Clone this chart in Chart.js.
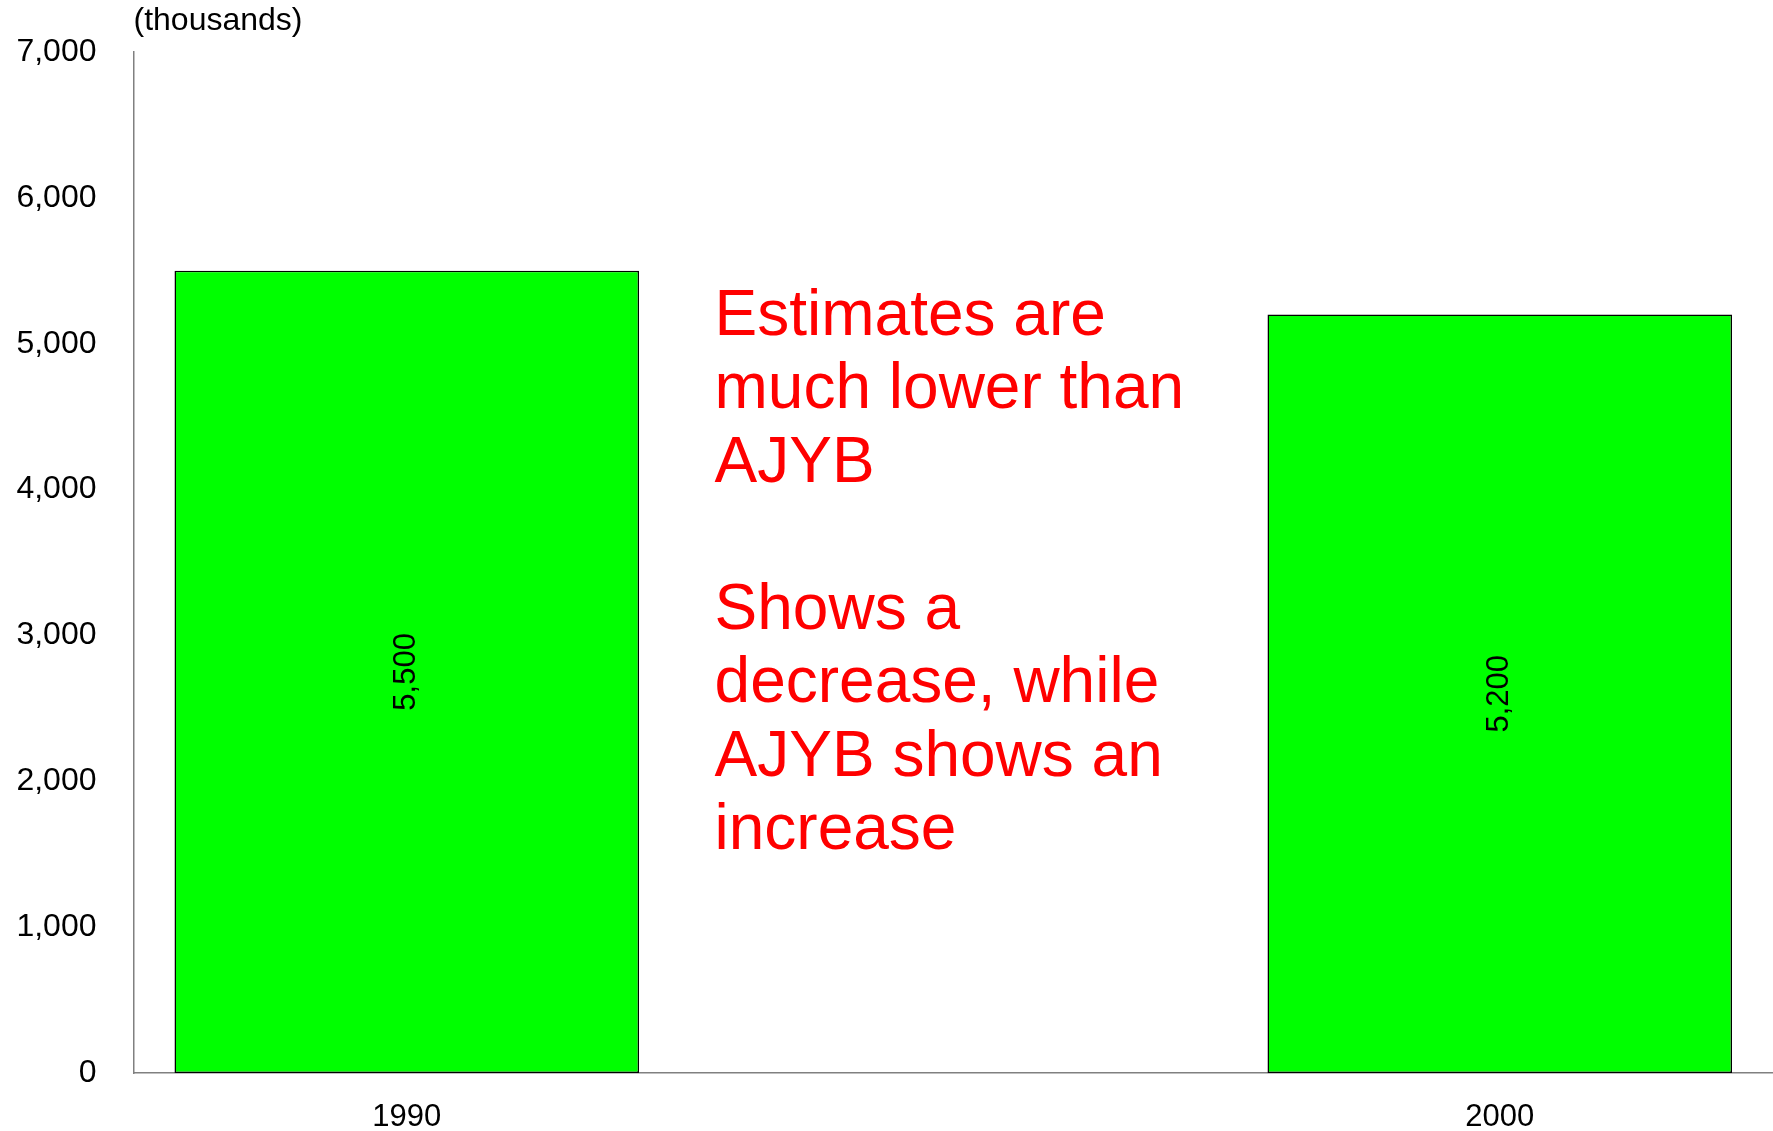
<!DOCTYPE html>
<html>
<head>
<meta charset="utf-8">
<script src="https://cdn.jsdelivr.net/npm/chart.js@4.4.1/dist/chart.umd.min.js"></script>
<style>
  html, body { margin: 0; padding: 0; background: #ffffff; }
  #wrap { width: 1773px; height: 1131px; position: relative; }
</style>
</head>
<body>
<div id="wrap"><canvas id="c" width="1773" height="1131"></canvas></div>
<script>
// ---- data ----
const categories = ['1990', '2000'];
const values = [5500, 5200];
const valueLabels = ['5,500', '5,200'];
const yTicks = [0, 1000, 2000, 3000, 4000, 5000, 6000, 7000];
const unitLabel = '(thousands)';
const noteLines = [
  'Estimates are',
  'much lower than',
  'AJYB',
  '',
  'Shows a',
  'decrease, while',
  'AJYB shows an',
  'increase'
];

const FONT = '"Liberation Sans", Arial, Helvetica, sans-serif';

const points = categories.map((c, i) => ({ x: i, y: values[i] }));

const overlayPlugin = {
  id: 'overlay',
  afterDatasetsDraw(chart) {
    const ctx = chart.ctx;
    const area = chart.chartArea;
    const xs = chart.scales.x, ys = chart.scales.y;
    // value labels, rotated, centred in bars
    const meta = chart.getDatasetMeta(0);
    ctx.save();
    ctx.fillStyle = '#000000';
    ctx.font = '31px ' + FONT;
    ctx.textAlign = 'center';
    ctx.textBaseline = 'middle';
    meta.data.forEach((bar, i) => {
      const cy = (bar.y + bar.base) / 2;
      ctx.save();
      ctx.translate(bar.x, cy);
      ctx.rotate(-Math.PI / 2);
      ctx.fillText(valueLabels[i], 0, 0);
      ctx.restore();
    });
    ctx.restore();

    // unit label above the y axis
    ctx.save();
    ctx.fillStyle = '#000000';
    ctx.font = '32px ' + FONT;
    ctx.textAlign = 'left';
    ctx.textBaseline = 'middle';
    ctx.fillText(unitLabel, area.left, 21);
    ctx.restore();

    // annotation text
    ctx.save();
    ctx.fillStyle = '#ff0000';
    ctx.font = '64px ' + FONT;
    ctx.textAlign = 'left';
    ctx.textBaseline = 'alphabetic';
    const tx = xs.getPixelForValue(0.2816);
    const ty0 = ys.getPixelForValue(5063);
    const lh = 73.5;
    noteLines.forEach((line, i) => {
      if (line) ctx.fillText(line, tx, ty0 + i * lh);
    });
    ctx.restore();
  }
};

new Chart(document.getElementById('c'), {
  type: 'bar',
  data: {
    datasets: [{
      data: points,
      backgroundColor: '#00ff00',
      borderColor: '#000000',
      borderWidth: 1.5,
      borderSkipped: false,
      categoryPercentage: 1,
      barPercentage: 0.425
    }]
  },
  options: {
    responsive: false,
    animation: false,
    devicePixelRatio: 1,
    layout: { padding: { top: 52, right: 0, bottom: 0, left: 0 } },
    plugins: {
      legend: { display: false },
      tooltip: { enabled: false },
      title: { display: false }
    },
    scales: {
      x: {
        type: 'linear',
        min: -0.25,
        max: 1.25,
        offset: false,
        grid: { display: false, drawTicks: false },
        border: { display: true, color: '#808080', width: 1.5 },
        afterBuildTicks(scale) {
          scale.ticks = categories.map((c, i) => ({ value: i }));
        },
        afterFit(scale) {
          scale.height = 58;
          scale.paddingLeft = 0;
          scale.paddingRight = 0;
        },
        ticks: {
          autoSkip: false,
          maxRotation: 0,
          padding: 26,
          color: '#000000',
          font: { family: FONT, size: 31 },
          callback: (v) => categories[Math.round(v)] ?? ''
        }
      },
      y: {
        min: 0,
        max: 7000,
        grid: { display: false, drawTicks: false },
        border: { display: true, color: '#808080', width: 1.5 },
        afterBuildTicks(scale) {
          scale.ticks = yTicks.map(v => ({ value: v }));
        },
        afterFit(scale) {
          scale.width = 133.5;
          scale.paddingTop = 0;
          scale.paddingBottom = 0;
        },
        ticks: {
          padding: 37,
          color: '#000000',
          font: { family: FONT, size: 32 },
          callback: (v) => Number(v).toLocaleString('en-US')
        }
      }
    }
  },
  plugins: [overlayPlugin]
});
</script>
</body>
</html>
